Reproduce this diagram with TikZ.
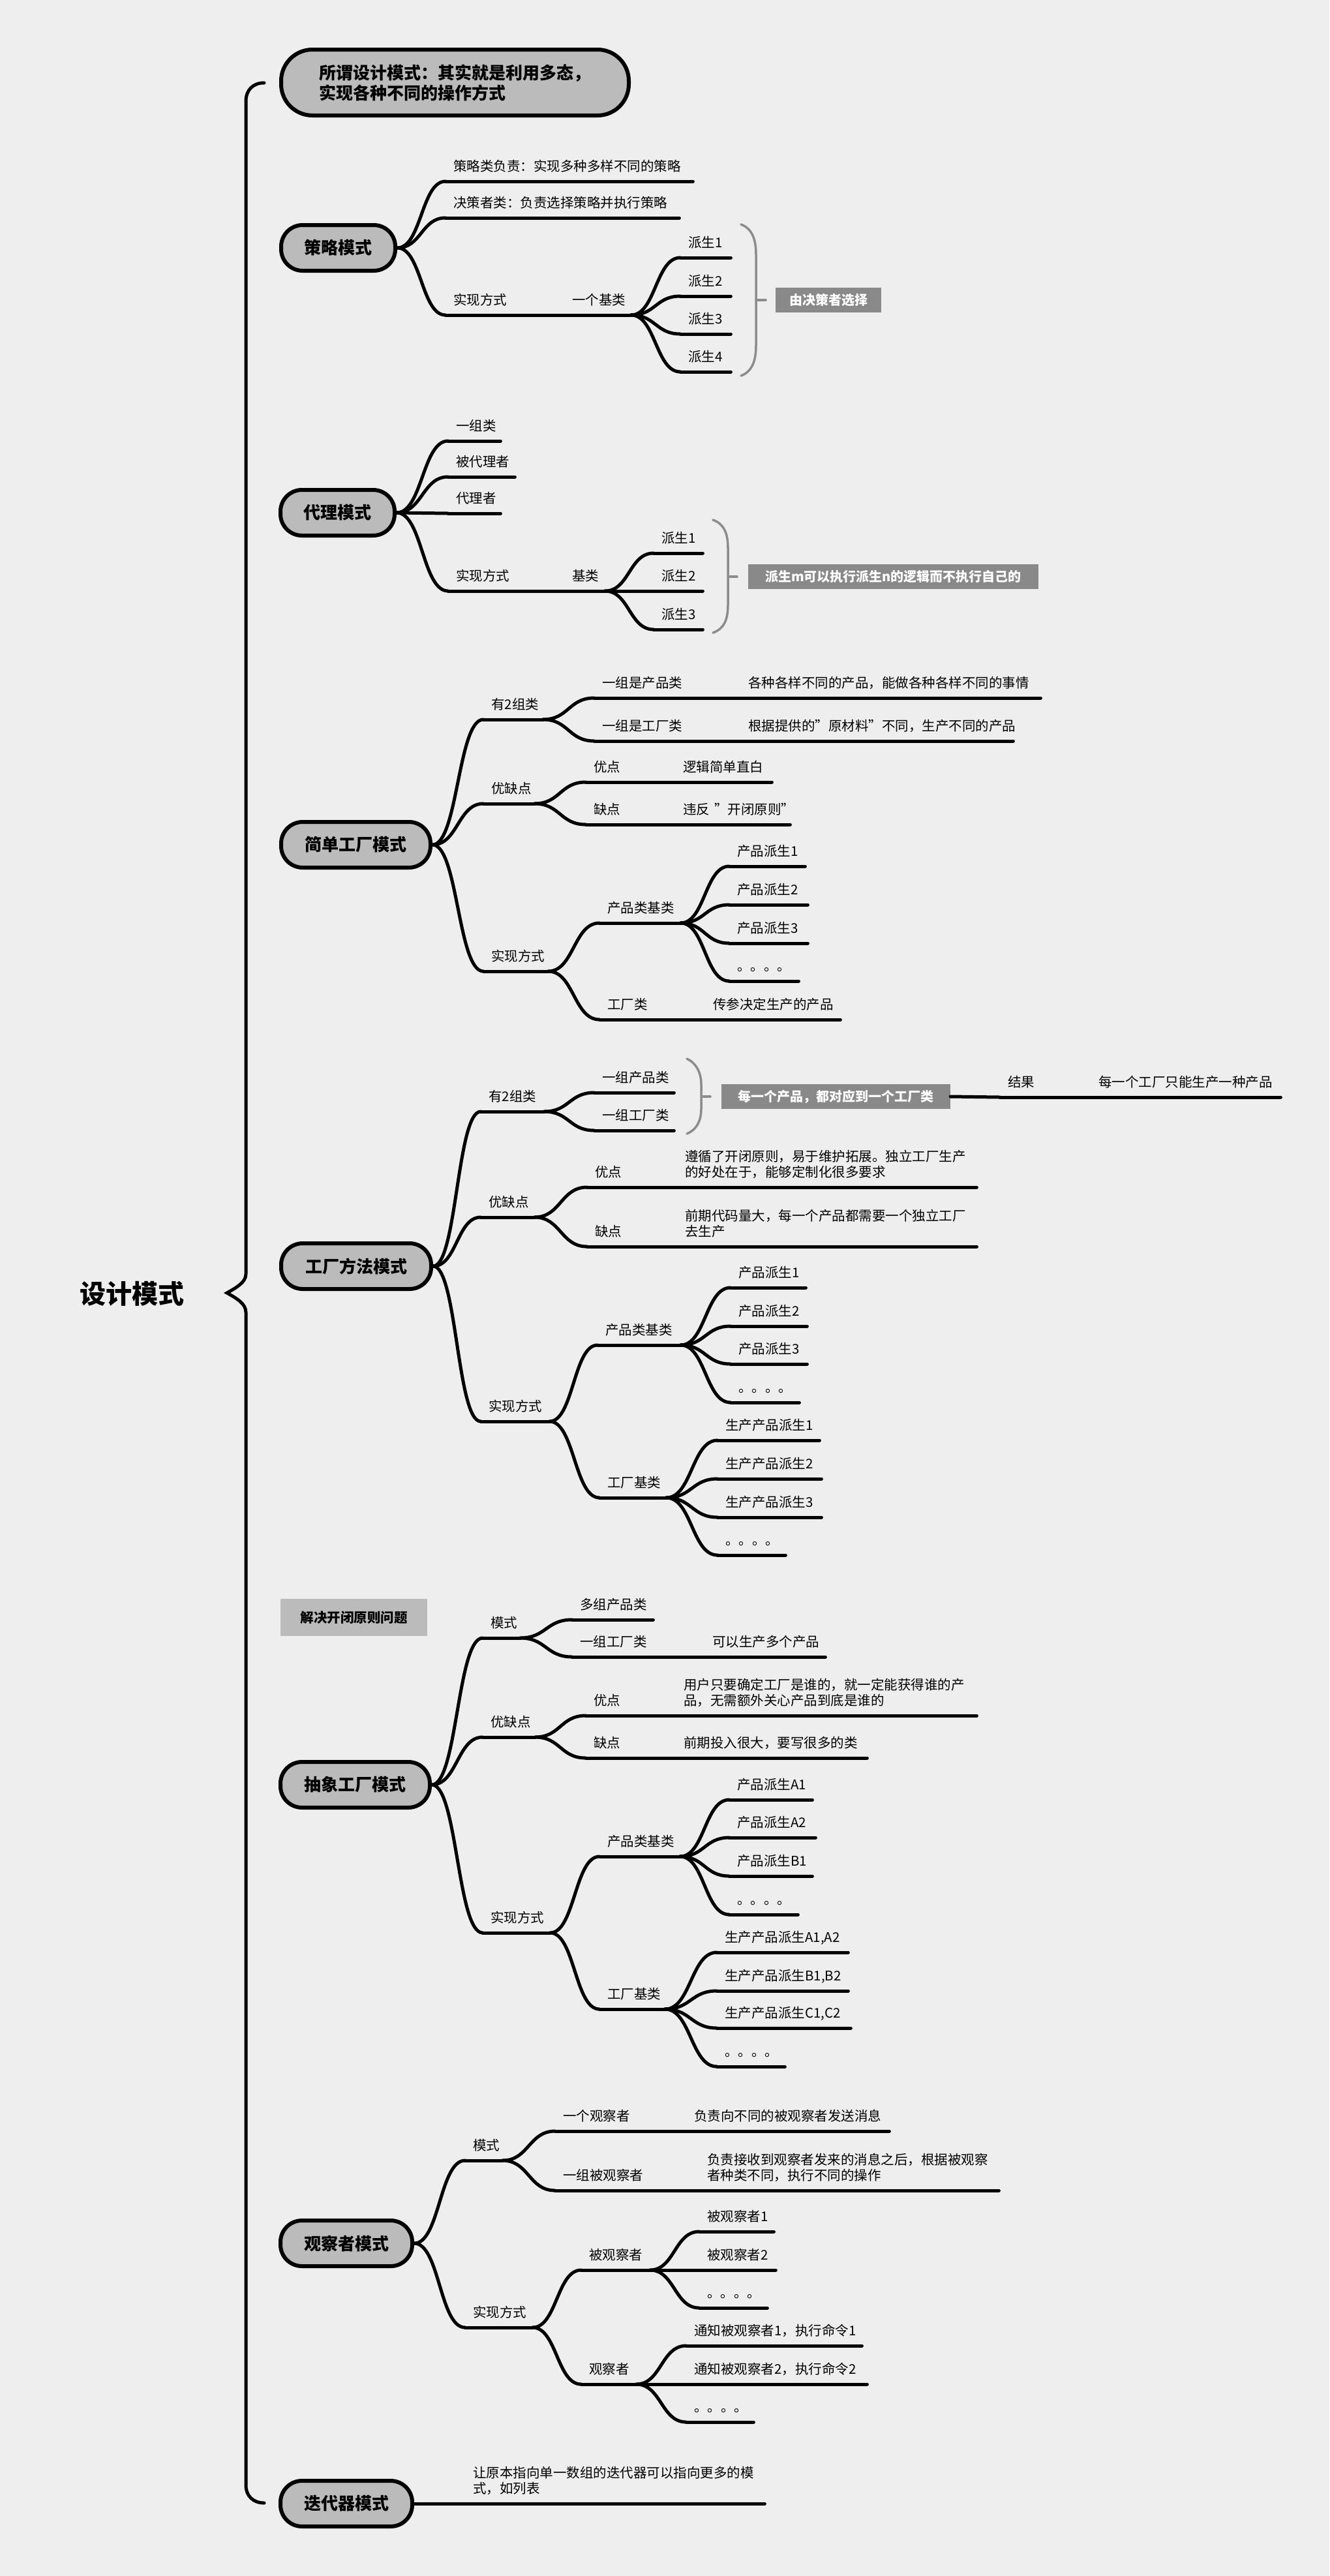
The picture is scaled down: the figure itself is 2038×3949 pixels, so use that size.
\documentclass[tikz,border=0pt]{standalone}
\usepackage{fontspec}
\setmainfont{Noto Sans CJK SC}
\usetikzlibrary{calc}
\definecolor{bg}{HTML}{EEEEEE}
\definecolor{nodegray}{HTML}{BBBBBB}
\definecolor{boxgray}{HTML}{898989}
\definecolor{bracegray}{HTML}{8C8C8C}
\tikzset{
  topic/.style={anchor=south west, align=left, inner xsep=12pt, inner ysep=0pt, text depth=15pt, font=\fontsize{20.5}{24.6}\selectfont},
  uline/.style={line width=5pt, line cap=round},
  conn/.style={line width=5pt, line cap=round},
  mainbox/.style={draw, line width=6pt, fill=nodegray, rounded corners=33pt, minimum height=70pt, inner sep=0pt, font=\bfseries\fontsize{26}{31}\selectfont},
  graybox/.style={fill=boxgray, text=white, inner sep=0pt, minimum height=38pt, font=\bfseries\fontsize{20}{24}\selectfont},
  notebox/.style={fill=nodegray, inner sep=0pt, font=\bfseries\fontsize{20.5}{24}\selectfont},
  brace/.style={draw=bracegray, line width=3.5pt, line cap=round},
  mainbrace/.style={line width=5pt, line cap=round},
}
\newcommand\topic[5]{%
  \pgfmathsetmacro\tw{#3-#2-24}%
  \node[topic, text width=\tw pt] (#1) at (#2,#4) {#5};
  \draw[uline] (#1.south west) -- (#1.south east);
}
\newcommand\two[2]{\begin{tabular}[b]{@{}l@{}}#1\\#2\end{tabular}}
\newcommand\link[2]{\draw[conn] let \p1=(#1), \p2=(#2.south west), \n1={max(0.5*(\x2-\x1),2)} in (\p1) to[out=0,in=180,distance=\n1] (\p2);}
\newcommand\cm[2]{\link{#1.east}{#2}}
\newcommand\cc[2]{\link{#1.south east}{#2}}
\begin{document}
\begin{tikzpicture}[x=1pt,y=-1pt]
\path[use as bounding box, fill=bg] (0,0) rectangle (2038,3949);

% root and main brace
\node[font=\bfseries\fontsize{40}{48}\selectfont] (root) at (202,1983) {设计模式};
\draw[mainbrace] (405,127) .. controls (388,127) and (377,138) .. (377,155) -- (377,1953)
  .. controls (377,1966) and (362,1974) .. (348,1982)
  .. controls (362,1990) and (377,1998) .. (377,2012) -- (377,3810)
  .. controls (377,3826) and (388,3837) .. (405,3837);

% title
\node[mainbox, rounded corners=48pt, minimum width=533pt, minimum height=101pt, align=left] (t0) at (697.5,126.5) {所谓设计模式：其实就是利用多态，\\实现各种不同的操作方式};

% ---------------- 策略模式
\node[mainbox, minimum width=175pt] (s1) at (518.5,380) {策略模式};
\topic{a1}{683}{1062}{278}{策略类负责：实现多种多样不同的策略}
\topic{a2}{683}{1041}{334}{决策者类：负责选择策略并执行策略}
\topic{a3}{683}{788}{483}{实现方式}
\topic{a31}{865}{967}{483}{一个基类}
\topic{a311}{1043}{1120}{395}{派生1}
\topic{a312}{1043}{1120}{454}{派生2}
\topic{a313}{1043}{1120}{512}{派生3}
\topic{a314}{1043}{1120}{570}{派生4}
\cm{s1}{a1}\cm{s1}{a2}\cm{s1}{a3}
\cc{a3}{a31}
\cc{a31}{a311}\cc{a31}{a312}\cc{a31}{a313}\cc{a31}{a314}
\draw[brace] (1136,344) .. controls (1152,350) and (1159,365) .. (1159,390) -- (1159,530) .. controls (1159,555) and (1152,570) .. (1136,576);
\draw[brace] (1162,460) -- (1174,460);
\node[graybox, minimum width=162pt] (g1) at (1270,460) {由决策者选择};

% ---------------- 代理模式
\node[mainbox, minimum width=175pt] (s2) at (517.5,786) {代理模式};
\topic{p1}{687}{767}{676}{一组类}
\topic{p2}{687}{789}{731}{被代理者}
\topic{p3}{687}{767}{787}{代理者}
\topic{p4}{687}{786}{906}{实现方式}
\topic{p41}{865}{927}{906}{基类}
\topic{p411}{1002}{1077}{848}{派生1}
\topic{p412}{1002}{1077}{906}{派生2}
\topic{p413}{1002}{1077}{965}{派生3}
\cm{s2}{p1}\cm{s2}{p2}\cm{s2}{p3}\cm{s2}{p4}
\cc{p4}{p41}
\cc{p41}{p411}\cc{p41}{p412}\cc{p41}{p413}
\draw[brace] (1093,797) .. controls (1110,803) and (1116,818) .. (1116,840) -- (1116,927) .. controls (1116,950) and (1110,964) .. (1093,970);
\draw[brace] (1119,884) -- (1130,884);
\node[graybox, minimum width=445pt] (g2) at (1369.5,884) {派生m可以执行派生n的逻辑而不执行自己的};

% ---------------- 简单工厂模式
\node[mainbox, minimum width=229pt] (s3) at (545.5,1295) {简单工厂模式};
\topic{c1}{741}{832}{1103}{有2组类}
\topic{c11}{911}{1056}{1070}{一组是产品类}
\topic{c111}{1135}{1595}{1070}{各种各样不同的产品，能做各种各样不同的事情}
\topic{c12}{911}{1056}{1136}{一组是工厂类}
\topic{c121}{1135}{1553}{1136}{根据提供的"原材料"不同，生产不同的产品}
\topic{c2}{741}{819}{1232}{优缺点}
\topic{c21}{898}{956}{1199}{优点}
\topic{c211}{1035}{1183}{1199}{逻辑简单直白}
\topic{c22}{898}{956}{1264}{缺点}
\topic{c221}{1035}{1211}{1264}{\mbox{违反 "开闭原则"}}
\topic{c3}{741}{840}{1489}{实现方式}
\topic{c31}{919}{1043}{1415}{产品类基类}
\topic{c311}{1118}{1234}{1328}{产品派生1}
\topic{c312}{1118}{1238}{1387}{产品派生2}
\topic{c313}{1118}{1238}{1446}{产品派生3}
\topic{c314}{1118}{1224}{1504}{。。。。}
\topic{c32}{919}{998}{1563}{工厂类}
\topic{c321}{1081}{1288}{1563}{传参决定生产的产品}
\cm{s3}{c1}\cm{s3}{c2}\cm{s3}{c3}
\cc{c1}{c11}\cc{c1}{c12}\cc{c11}{c111}\cc{c12}{c121}
\cc{c2}{c21}\cc{c2}{c22}\cc{c21}{c211}\cc{c22}{c221}
\cc{c3}{c31}\cc{c3}{c32}
\cc{c31}{c311}\cc{c31}{c312}\cc{c31}{c313}\cc{c31}{c314}
\cc{c32}{c321}

% ---------------- 工厂方法模式
\node[mainbox, minimum width=230pt] (s4) at (546,1941) {工厂方法模式};
\topic{d1}{737}{834}{1704}{有2组类}
\topic{d11}{911}{1033}{1675}{一组产品类}
\topic{d12}{911}{1033}{1733}{一组工厂类}
\draw[brace] (1053,1623) .. controls (1068,1630) and (1075,1645) .. (1075,1662) -- (1075,1700) .. controls (1075,1718) and (1068,1732) .. (1053,1738);
\draw[brace] (1078,1681) -- (1089,1681);
\node[graybox, minimum width=351pt] (g4) at (1281.5,1681) {每一个产品，都对应到一个工厂类};
\topic{d13}{1533}{1592}{1682}{结果}
\topic{d131}{1672}{1963}{1682}{每一个工厂只能生产一种产品}
\topic{d2}{737}{819}{1866}{优缺点}
\topic{d21}{900}{957}{1820}{优点}
\topic{d211}{1038}{1497}{1820}{\two{遵循了开闭原则，易于维护拓展。独立工厂生产}{的好处在于，能够定制化很多要求}}
\topic{d22}{900}{957}{1911}{缺点}
\topic{d221}{1038}{1497}{1911}{\two{前期代码量大，每一个产品都需要一个独立工厂}{去生产}}
\topic{d3}{737}{842}{2179}{实现方式}
\topic{d31}{916}{1043}{2062}{产品类基类}
\topic{d311}{1120}{1235}{1974}{产品派生1}
\topic{d312}{1120}{1237}{2033}{产品派生2}
\topic{d313}{1120}{1237}{2091}{产品派生3}
\topic{d314}{1120}{1225}{2150}{。。。。}
\topic{d32}{919}{1021}{2296}{工厂基类}
\topic{d321}{1100}{1256}{2208}{生产产品派生1}
\topic{d322}{1100}{1259}{2267}{生产产品派生2}
\topic{d323}{1100}{1259}{2326}{生产产品派生3}
\topic{d324}{1100}{1204}{2384}{。。。。}
\cm{s4}{d1}\cm{s4}{d2}\cm{s4}{d3}
\cc{d1}{d11}\cc{d1}{d12}
\link{g4.east}{d13}\cc{d13}{d131}
\cc{d2}{d21}\cc{d2}{d22}\cc{d21}{d211}\cc{d22}{d221}
\cc{d3}{d31}\cc{d3}{d32}
\cc{d31}{d311}\cc{d31}{d312}\cc{d31}{d313}\cc{d31}{d314}
\cc{d32}{d321}\cc{d32}{d322}\cc{d32}{d323}\cc{d32}{d324}

% ---------------- 抽象工厂模式
\node[notebox, minimum width=225pt, minimum height=57pt] (note5) at (542.5,2479.5) {解决开闭原则问题};
\node[mainbox, minimum width=229pt] (s5) at (544.5,2736) {抽象工厂模式};
\topic{e1}{740}{797}{2511}{模式}
\topic{e11}{877}{1001}{2483}{多组产品类}
\topic{e12}{877}{1000}{2540}{一组工厂类}
\topic{e121}{1080}{1265}{2540}{可以生产多个产品}
\topic{e2}{740}{820}{2663}{优缺点}
\topic{e21}{898}{958}{2630}{优点}
\topic{e211}{1036}{1497}{2630}{\two{用户只要确定工厂是谁的，就一定能获得谁的产}{品，无需额外关心产品到底是谁的}}
\topic{e22}{898}{958}{2695}{缺点}
\topic{e221}{1036}{1329}{2695}{前期投入很大，要写很多的类}
\topic{e3}{740}{843}{2963}{实现方式}
\topic{e31}{919}{1042}{2846}{产品类基类}
\topic{e311}{1118}{1245}{2759}{产品派生A1}
\topic{e312}{1118}{1250}{2817}{产品派生A2}
\topic{e313}{1118}{1245}{2876}{产品派生B1}
\topic{e314}{1118}{1223}{2935}{。。。。}
\topic{e32}{919}{1019}{3080}{工厂基类}
\topic{e321}{1099}{1300}{2993}{生产产品派生A1,A2}
\topic{e322}{1099}{1300}{3052}{生产产品派生B1,B2}
\topic{e323}{1099}{1304}{3109}{生产产品派生C1,C2}
\topic{e324}{1099}{1203}{3168}{。。。。}
\cm{s5}{e1}\cm{s5}{e2}\cm{s5}{e3}
\cc{e1}{e11}\cc{e1}{e12}\cc{e12}{e121}
\cc{e2}{e21}\cc{e2}{e22}\cc{e21}{e211}\cc{e22}{e221}
\cc{e3}{e31}\cc{e3}{e32}
\cc{e31}{e311}\cc{e31}{e312}\cc{e31}{e313}\cc{e31}{e314}
\cc{e32}{e321}\cc{e32}{e322}\cc{e32}{e323}\cc{e32}{e324}

% ---------------- 观察者模式
\node[mainbox, minimum width=202pt] (s6) at (531,3439) {观察者模式};
\topic{f1}{713}{770}{3312}{模式}
\topic{f11}{851}{973}{3267}{一个观察者}
\topic{f111}{1052}{1363}{3267}{负责向不同的被观察者发送消息}
\topic{f12}{851}{992}{3358}{一组被观察者}
\topic{f121}{1072}{1531}{3358}{\two{负责接收到观察者发来的消息之后，根据被观察}{者种类不同，执行不同的操作}}
\topic{f2}{713}{816}{3568}{实现方式}
\topic{f21}{891}{996}{3480}{被观察者}
\topic{f211}{1072}{1186}{3421}{被观察者1}
\topic{f212}{1072}{1189}{3480}{被观察者2}
\topic{f213}{1072}{1176}{3538}{。。。。}
\topic{f22}{891}{975}{3655}{观察者}
\topic{f221}{1052}{1321}{3596}{通知被观察者1，执行命令1}
\topic{f222}{1052}{1329}{3655}{通知被观察者2，执行命令2}
\topic{f223}{1052}{1155}{3713}{。。。。}
\cm{s6}{f1}\cm{s6}{f2}
\cc{f1}{f11}\cc{f1}{f12}\cc{f11}{f111}\cc{f12}{f121}
\cc{f2}{f21}\cc{f2}{f22}
\cc{f21}{f211}\cc{f21}{f212}\cc{f21}{f213}
\cc{f22}{f221}\cc{f22}{f222}\cc{f22}{f223}

% ---------------- 迭代器模式
\node[mainbox, minimum width=202pt] (s7) at (531,3838) {迭代器模式};
\topic{h1}{713}{1172}{3838}{\two{让原本指向单一数组的迭代器可以指向更多的模}{式，如列表}}
\cm{s7}{h1}
\end{tikzpicture}
\end{document}
